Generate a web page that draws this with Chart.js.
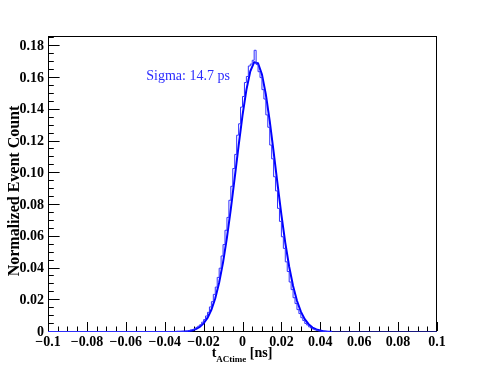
<!DOCTYPE html>
<html>
<head>
<meta charset="utf-8">
<script src="https://cdn.jsdelivr.net/npm/chart.js@4.4.1/dist/chart.umd.min.js"></script>
<style>
  html, body { margin: 0; padding: 0; background: #fff; }
  canvas { display: block; }
</style>
</head>
<body>
<canvas id="myChart" width="485" height="368"></canvas>
<script>
(() => {
  'use strict'

  // histogram: bins of 1 ps starting at -30 ps (low edges)
  const histStart = -0.030
  const histWidth = 0.001
  const histCounts = [
    0.0003, 0.0005, 0.0006, 0.0008, 0.0012, 0.0015, 0.0020, 0.0029, 0.0037, 0.0046,
    0.0062, 0.0078, 0.0101, 0.0124, 0.0158, 0.0191, 0.0237, 0.0283, 0.0344, 0.0402,
    0.0479, 0.0551, 0.0641, 0.0722, 0.0830, 0.0918, 0.1030, 0.1119, 0.1240, 0.1312,
    0.1417, 0.1484, 0.1572, 0.1610, 0.1676, 0.1688, 0.1712, 0.1775, 0.1686, 0.1640,
    0.1603, 0.1527, 0.1468, 0.1368, 0.1290, 0.1178, 0.1091, 0.0978, 0.0889, 0.0779,
    0.0697, 0.0600, 0.0527, 0.0442, 0.0381, 0.0315, 0.0267, 0.0216, 0.0179, 0.0141,
    0.0116, 0.0090, 0.0072, 0.0054, 0.0044, 0.0032, 0.0025, 0.0018, 0.0014, 0.0010,
    0.0007, 0.0005, 0.0004, 0.0003, 0.0002
  ]

  // gaussian fit curve, sampled every 2 ps
  const fitStart = -0.034
  const fitStep = 0.002
  const fitValues = [
    0.0001, 0.0001, 0.0003, 0.0005, 0.0010, 0.0018, 0.0032, 0.0054, 0.0089, 0.0140,
    0.0213, 0.0312, 0.0439, 0.0595, 0.0776, 0.0973, 0.1175, 0.1365, 0.1526, 0.1642,
    0.1700, 0.1693, 0.1623, 0.1497, 0.1329, 0.1135, 0.0933, 0.0738, 0.0562, 0.0411,
    0.0290, 0.0197, 0.0128, 0.0081, 0.0049, 0.0028, 0.0016, 0.0009, 0.0004, 0.0002,
    0.0001
  ]

  const xRange = [-0.1, 0.1]
  const yRange = [0, 0.1865]
  const xTitle = ['t', 'ACtime', ' [ns]']
  const yTitle = 'Normalized Event Count'
  const fitLabel = 'Sigma: 14.7 ps'

  const histPoints = [{ x: xRange[0], y: 0 }]
  histCounts.forEach((c, i) => histPoints.push({ x: histStart + i * histWidth, y: c }))
  histPoints.push({ x: histStart + histCounts.length * histWidth, y: 0 })
  histPoints.push({ x: xRange[1], y: 0 })

  const fitPoints = fitValues.map((v, i) => ({ x: fitStart + i * fitStep, y: v }))

  const serif = '"Liberation Serif", "Times New Roman", serif'
  const minus = s => s.replace('-', '\u2212')

  const rootFrame = {
    id: 'rootFrame',
    beforeDatasetsDraw(chart) {
      const { ctx, chartArea: a, scales: { x, y } } = chart
      ctx.save()
      ctx.strokeStyle = '#000'
      ctx.lineWidth = 1
      ctx.strokeRect(a.left + 0.5, a.top + 0.5, a.right - a.left - 1, a.bottom - a.top - 1)
      ctx.beginPath()
      // x ticks, pointing up into the frame
      for (let i = 0; i <= 40; i++) {
        const v = xRange[0] + i * 0.005
        const px = Math.round(x.getPixelForValue(v)) + 0.5
        const len = i % 4 === 0 ? 9 : 4.5
        ctx.moveTo(px, a.bottom - 1)
        ctx.lineTo(px, a.bottom - 1 - len)
      }
      // y ticks, pointing right into the frame
      for (let i = 0; i * 0.005 <= yRange[1]; i++) {
        const py = Math.round(y.getPixelForValue(i * 0.005)) - 0.5
        const len = i % 4 === 0 ? 11.6 : 5.8
        ctx.moveTo(a.left, py)
        ctx.lineTo(a.left + len, py)
      }
      ctx.stroke()
      ctx.restore()
    },
    afterDraw(chart) {
      const { ctx, scales: { x, y } } = chart
      ctx.save()
      ctx.fillStyle = '#000'
      ctx.textBaseline = 'alphabetic'
      // x axis title with subscript
      const big = 'bold 14px ' + serif
      const small = 'bold 9px ' + serif
      ctx.font = big
      const w0 = ctx.measureText(xTitle[0]).width
      const w2 = ctx.measureText(xTitle[2]).width
      ctx.font = small
      const w1 = ctx.measureText(xTitle[1]).width
      let tx = 242 - (w0 + w1 + w2) / 2
      ctx.font = big
      ctx.fillText(xTitle[0], tx, 357)
      tx += w0
      ctx.font = small
      ctx.fillText(xTitle[1], tx, 362)
      tx += w1
      ctx.font = big
      ctx.fillText(xTitle[2], tx, 357)
      // y axis title
      ctx.translate(15, 191)
      ctx.rotate(-Math.PI / 2)
      ctx.textAlign = 'center'
      ctx.textBaseline = 'middle'
      ctx.font = 'bold 16px ' + serif
      ctx.fillText(yTitle, 0, 0)
      ctx.restore()
      // fit result
      ctx.save()
      ctx.fillStyle = '#2b2bff'
      ctx.font = '14px ' + serif
      ctx.textBaseline = 'middle'
      ctx.fillText(fitLabel, x.getPixelForValue(-0.0495), y.getPixelForValue(0.161))
      ctx.restore()
    }
  }

  const ctx = document.getElementById('myChart')
  new Chart(ctx, {
    type: 'line',
    data: {
      datasets: [{
        data: histPoints,
        stepped: 'after',
        borderColor: '#3030ff',
        borderWidth: 1,
        pointRadius: 0,
        fill: false
      }, {
        data: fitPoints,
        borderColor: '#0000ff',
        borderWidth: 2,
        pointRadius: 0,
        tension: 0,
        fill: false
      }]
    },
    options: {
      responsive: false,
      animation: false,
      events: [],
      layout: { padding: { top: 36, right: 48, left: 0, bottom: 0 } },
      plugins: {
        legend: { display: false },
        tooltip: { enabled: false }
      },
      scales: {
        x: {
          type: 'linear',
          min: xRange[0],
          max: xRange[1],
          grid: { display: false, drawTicks: false },
          border: { display: false },
          afterFit: s => { s.height = 36 },
          ticks: {
            stepSize: 0.02,
            padding: 2,
            maxRotation: 0,
            autoSkip: false,
            color: '#000',
            font: { family: serif, size: 14, weight: 'bold' },
            callback: v => Math.abs(v) < 1e-9 ? '0' : minus(String(parseFloat(v.toFixed(3))))
          }
        },
        y: {
          type: 'linear',
          min: yRange[0],
          max: yRange[1],
          grid: { display: false, drawTicks: false },
          border: { display: false },
          afterFit: s => { s.width = 48 },
          ticks: {
            stepSize: 0.02,
            includeBounds: false,
            padding: 4,
            color: '#000',
            font: { family: serif, size: 14, weight: 'bold' },
            callback: v => Math.abs(v) < 1e-9 ? '0' : v.toFixed(2)
          }
        }
      }
    },
    plugins: [rootFrame]
  })
})()
</script>
</body>
</html>
